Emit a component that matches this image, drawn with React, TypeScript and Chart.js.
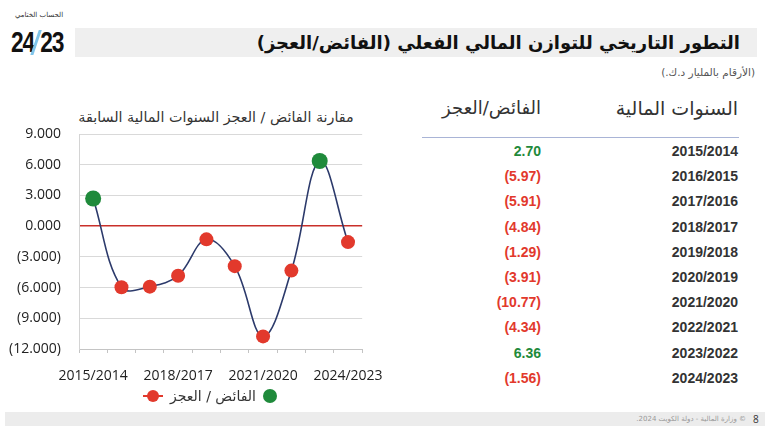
import React, { useEffect, useRef } from "react";
import { Chart, registerables } from "chart.js";

Chart.register(...registerables);

const years = [
  "2015/2014",
  "2016/2015",
  "2017/2016",
  "2018/2017",
  "2019/2018",
  "2020/2019",
  "2021/2020",
  "2022/2021",
  "2023/2022",
  "2024/2023",
];
const balance = [2.7, -5.97, -5.91, -4.84, -1.29, -3.91, -10.77, -4.34, 6.36, -1.56];
const yTicks = [9, 6, 3, 0, -3, -6, -9, -12];

const chartTitle = "مقارنة الفائض / العجز السنوات المالية السابقة";
const legendLabel = "الفائض / العجز";
const pageTitle = "التطور التاريخي للتوازن المالي الفعلي (الفائض/العجز)";
const unitNote = "(الأرقام بالمليار د.ك.)";
const colYears = "السنوات المالية";
const colBalance = "الفائض/العجز";
const footerText = "© وزارة المالية - دولة الكويت 2024.";
const pageNum = "8";
const brandSmall = "الحساب الختامي";

const RED = "#e2392c";
const GREEN = "#1f8a3b";
const NAVY = "#2c3a6b";
const AR = "'DejaVu Sans', 'Noto Sans', sans-serif";
const LAT = "'Open Sans', 'Noto Sans', sans-serif";

function fmtTick(v: number) {
  return v < 0 ? `(${Math.abs(v).toFixed(3)})` : v.toFixed(3);
}
function fmtVal(v: number) {
  return v < 0 ? `(${Math.abs(v).toFixed(2)})` : v.toFixed(2);
}

function LineChart() {
  const ref = useRef<HTMLCanvasElement | null>(null);
  useEffect(() => {
    if (!ref.current) return;
    const chart = new Chart(ref.current, {
      type: "line",
      data: {
        labels: years,
        datasets: [
          {
            label: legendLabel,
            data: balance,
            borderColor: NAVY,
            borderWidth: 1.6,
            tension: 0.38,
            fill: false,
            pointBackgroundColor: balance.map((v) => (v >= 0 ? GREEN : RED)),
            pointBorderColor: balance.map((v) => (v >= 0 ? GREEN : RED)),
            pointBorderWidth: 0,
            pointRadius: balance.map((v) => (v >= 0 ? 8 : 7)),
          },
        ],
      },
      options: {
        responsive: false,
        animation: false,
        layout: { padding: { left: 0, right: 0, top: 34, bottom: 0 } },
        plugins: {
          legend: { display: false },
          tooltip: { enabled: false },
          title: { display: false },
        },
        scales: {
          x: {
            offset: true,
            afterFit: (s: any) => {
              s.height = 41;
            },
            grid: {
              display: true,
              drawOnChartArea: false,
              drawTicks: true,
              tickLength: 4,
              color: "#c4c4c4",
              offset: true,
            },
            border: { display: true, color: "#c4c4c4" },
            ticks: {
              autoSkip: false,
              maxRotation: 0,
              padding: 15,
              color: "#222",
              font: { family: LAT, size: 14 },
              callback: (_v: any, i: number) => (i % 3 === 0 ? years[i] : ""),
            },
          },
          y: {
            min: yTicks[yTicks.length - 1],
            max: yTicks[0],
            afterFit: (s: any) => {
              s.width = 79;
            },
            afterBuildTicks: (s: any) => {
              s.ticks = yTicks.map((v) => ({ value: v }));
            },
            grid: {
              drawTicks: false,
              color: (c: any) => (c.tick && c.tick.value === 0 ? "#c9302a" : "#d9d9d9"),
              lineWidth: (c: any) => (c.tick && c.tick.value === 0 ? 1.6 : 1),
            },
            border: { display: true, color: "#d4d4d4" },
            ticks: {
              padding: 18,
              color: "#222",
              font: { family: LAT, size: 14 },
              callback: (v: any) => fmtTick(Number(v)),
            },
          },
        },
      },
    });
    return () => chart.destroy();
  }, []);
  return (
    <canvas
      ref={ref}
      width={398}
      height={290}
      style={{ position: "absolute", left: 0, top: 100, width: 398, height: 290 }}
    />
  );
}

export default function App() {
  const rowTop = 151;
  const rowStep = 25.2;
  return (
    <div
      style={{
        position: "absolute",
        left: 0,
        top: 0,
        width: 770,
        height: 433,
        background: "#fff",
        overflow: "hidden",
        fontFamily: AR,
      }}
    >
      {/* brand */}
      <div
        style={{
          position: "absolute",
          left: 14,
          top: 11,
          width: 50,
          textAlign: "center",
          fontSize: 7,
          color: "#333",
          direction: "rtl",
        }}
      >
        {brandSmall}
      </div>
      <div
        style={{
          position: "absolute",
          left: 11,
          top: 27,
          fontFamily: "'Liberation Sans', Arial, sans-serif",
          fontWeight: 700,
          fontSize: 30,
          letterSpacing: -1.5,
          color: "#111",
          lineHeight: "30px",
          whiteSpace: "nowrap",
          display: "flex",
          alignItems: "center",
          transform: "scaleX(0.76)",
          transformOrigin: "left center",
        }}
      >
        <span>24</span>
        <span
          style={{
            display: "inline-block",
            width: 4,
            height: 25,
            background: "#7fc4ea",
            transform: "skewX(-24deg)",
            margin: "0 3px 0 1px",
          }}
        />
        <span>23</span>
      </div>
      {/* title bar */}
      <div
        style={{
          position: "absolute",
          left: 75,
          top: 28,
          width: 682,
          height: 29,
          background: "#efefef",
        }}
      />
      <div
        style={{
          position: "absolute",
          right: 30,
          top: 28,
          height: 29,
          lineHeight: "29px",
          fontSize: 18,
          fontWeight: 700,
          color: "#111",
          direction: "rtl",
          whiteSpace: "nowrap",
        }}
      >
        {pageTitle}
      </div>
      <div
        style={{
          position: "absolute",
          right: 15,
          top: 66,
          fontSize: 10.5,
          color: "#555",
          direction: "rtl",
          whiteSpace: "nowrap",
        }}
      >
        {unitNote}
      </div>

      {/* chart title */}
      <div
        style={{
          position: "absolute",
          left: 36,
          top: 107,
          width: 360,
          textAlign: "center",
          fontSize: 14.3,
          lineHeight: "20px",
          color: "#333",
          direction: "rtl",
          whiteSpace: "nowrap",
        }}
      >
        {chartTitle}
      </div>

      <LineChart />

      {/* legend */}
      <div style={{ position: "absolute", left: 143, top: 395, width: 20, height: 2, background: RED }} />
      <div
        style={{
          position: "absolute",
          left: 147,
          top: 390,
          width: 12,
          height: 12,
          borderRadius: 6,
          background: RED,
        }}
      />
      <div
        style={{
          position: "absolute",
          left: 168,
          top: 386,
          width: 90,
          textAlign: "center",
          fontSize: 14,
          color: "#333",
          direction: "rtl",
          whiteSpace: "nowrap",
          lineHeight: "20px",
        }}
      >
        {legendLabel}
      </div>
      <div
        style={{
          position: "absolute",
          left: 263,
          top: 389,
          width: 14,
          height: 14,
          borderRadius: 7,
          background: GREEN,
        }}
      />

      {/* table */}
      <div
        style={{
          position: "absolute",
          right: 32,
          top: 95,
          fontSize: 19,
          color: "#333",
          direction: "rtl",
          whiteSpace: "nowrap",
          lineHeight: "26px",
        }}
      >
        {colYears}
      </div>
      <div
        style={{
          position: "absolute",
          right: 229,
          top: 95,
          fontSize: 18,
          color: "#333",
          direction: "rtl",
          whiteSpace: "nowrap",
          lineHeight: "26px",
        }}
      >
        {colBalance}
      </div>
      <div
        style={{
          position: "absolute",
          left: 422,
          top: 137,
          width: 317,
          height: 1,
          background: "#a9b4d6",
        }}
      />
      {years.map((y, i) => (
        <React.Fragment key={y}>
          <div
            style={{
              position: "absolute",
              right: 32,
              top: rowTop + i * rowStep - 10,
              height: 20,
              lineHeight: "20px",
              fontFamily: "'Liberation Sans', Arial, sans-serif",
              fontWeight: 700,
              fontSize: 14,
              color: "#333",
            }}
          >
            {y}
          </div>
          <div
            style={{
              position: "absolute",
              right: 229,
              top: rowTop + i * rowStep - 10,
              height: 20,
              lineHeight: "20px",
              fontFamily: "'Liberation Sans', Arial, sans-serif",
              fontWeight: 700,
              fontSize: 14,
              color: balance[i] >= 0 ? GREEN : RED,
            }}
          >
            {fmtVal(balance[i])}
          </div>
        </React.Fragment>
      ))}

      {/* footer */}
      <div
        style={{
          position: "absolute",
          left: 5,
          top: 412,
          width: 760,
          height: 14,
          background: "#ececec",
        }}
      />
      <div
        style={{
          position: "absolute",
          right: 24,
          top: 412,
          height: 14,
          lineHeight: "14px",
          fontSize: 7,
          color: "#999",
          direction: "rtl",
          whiteSpace: "nowrap",
        }}
      >
        {footerText}
      </div>
      <div
        style={{
          position: "absolute",
          left: 753,
          top: 412,
          height: 14,
          lineHeight: "14px",
          fontSize: 10,
          color: "#333",
          fontFamily: LAT,
        }}
      >
        {pageNum}
      </div>
    </div>
  );
}
